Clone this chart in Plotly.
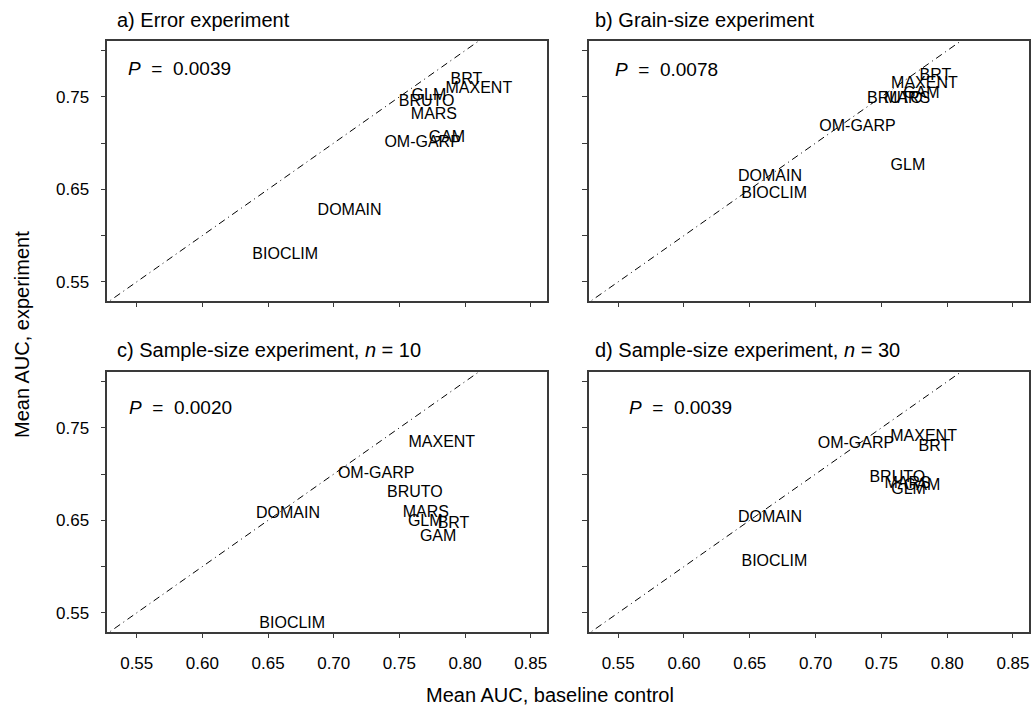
import plotly.graph_objects as go

# ---------------- data ----------------
titles = ["a) Error experiment",
          "b) Grain-size experiment",
          "c) Sample-size experiment, <i>n</i>\u00a0=\u00a010",
          "d) Sample-size experiment, <i>n</i>\u00a0=\u00a030"]
p_values = ["0.0039", "0.0078", "0.0020", "0.0039"]

labels_a = ["BRT", "MAXENT", "GLM", "BRUTO", "MARS", "GAM", "OM-GARP", "DOMAIN", "BIOCLIM"]
x_a = [0.801, 0.8105, 0.7725, 0.7707, 0.7763, 0.7862, 0.7677, 0.7121, 0.6631]
y_a = [0.7682, 0.7586, 0.7514, 0.7442, 0.7299, 0.7060, 0.6996, 0.6269, 0.5786]

labels_b = ["BRT", "MAXENT", "GAM", "BRUTO", "MARS", "OM-GARP", "GLM", "DOMAIN", "BIOCLIM"]
x_b = [0.7910, 0.7827, 0.7804, 0.7603, 0.7695, 0.7319, 0.7702, 0.6654, 0.6685]
y_b = [0.7729, 0.7639, 0.7532, 0.7479, 0.7479, 0.7174, 0.6752, 0.6637, 0.6448]

labels_c = ["MAXENT", "OM-GARP", "BRUTO", "MARS", "GLM", "BRT", "GAM", "DOMAIN", "BIOCLIM"]
x_c = [0.7823, 0.7323, 0.7618, 0.7702, 0.7697, 0.7912, 0.7795, 0.6652, 0.6684]
y_c = [0.7332, 0.7001, 0.6793, 0.6578, 0.6487, 0.6462, 0.6319, 0.6570, 0.5374]

labels_d = ["MAXENT", "BRT", "OM-GARP", "BRUTO", "MARS", "GLM", "GAM", "DOMAIN", "BIOCLIM"]
x_d = [0.7821, 0.7903, 0.7307, 0.7621, 0.7699, 0.7707, 0.7809, 0.6654, 0.6687]
y_d = [0.7403, 0.7289, 0.7324, 0.6955, 0.6893, 0.6829, 0.6871, 0.6524, 0.6045]

p_x = [0.5418, 0.5463, 0.5424, 0.5565]
p_y = [0.7809, 0.7798, 0.7722, 0.7718]

tick_vals = [0.55, 0.60, 0.65, 0.70, 0.75, 0.80, 0.85]
y_tick_vals = [0.55, 0.60, 0.65, 0.70, 0.75, 0.80]
y_tick_text = ["0.55", "", "0.65", "", "0.75", ""]
x_tick_text = ["0.55", "0.60", "0.65", "0.70", "0.75", "0.80", "0.85"]
diag = [0.50, 0.90]

# ---------------- figure ----------------
W, H = 1036, 711
FONT = "Liberation Sans, Arial, Helvetica, sans-serif"
fig = go.Figure()

panels = [(labels_a, x_a, y_a), (labels_b, x_b, y_b), (labels_c, x_c, y_c), (labels_d, x_d, y_d)]
xdoms = [[107.3 / W, 547.0 / W], [588.7 / W, 1029.3 / W]]
ydoms = [[1 - 300.7 / H, 1 - 41.0 / H], [1 - 631.7 / H, 1 - 372.0 / H]]
xrange_ = [0.5276, 0.8624]
yrange_ = [0.5296, 0.8104]
title_x = [115.0, 593.0]
title_y = [19.5, 350.5]

layout = dict(
    width=W, height=H,
    margin=dict(l=0, r=0, t=0, b=0),
    paper_bgcolor="white", plot_bgcolor="white",
    showlegend=False,
    font=dict(family=FONT, color="black"),
)
annotations = []

for i, (lab, xs, ys) in enumerate(panels):
    row, col = divmod(i, 2)
    n = i + 1
    xa = "x" if n == 1 else f"x{n}"
    ya = "y" if n == 1 else f"y{n}"
    xkey = "xaxis" if n == 1 else f"xaxis{n}"
    ykey = "yaxis" if n == 1 else f"yaxis{n}"
    axcommon = dict(showgrid=False, zeroline=False, showline=True, mirror=True,
                    linecolor="#3a3a3a", linewidth=1.5, ticks="outside", ticklen=5,
                    tickwidth=1, tickcolor="#3a3a3a",
                    tickfont=dict(family=FONT, size=17, color="black"))
    layout[xkey] = dict(axcommon, domain=xdoms[col], range=xrange_, anchor=ya,
                        tickmode="array", tickvals=tick_vals,
                        ticktext=x_tick_text if row == 1 else [""] * len(tick_vals),
                        ticklabelstandoff=10)
    layout[ykey] = dict(axcommon, domain=ydoms[row], range=yrange_, anchor=xa,
                        tickmode="array", tickvals=y_tick_vals,
                        ticktext=y_tick_text if col == 0 else [""] * len(y_tick_vals),
                        ticklabelstandoff=8)
    # 1:1 line
    fig.add_trace(go.Scatter(x=diag, y=diag, mode="lines", xaxis=xa, yaxis=ya,
                             line=dict(color="black", width=1, dash="1px,4px,7px,4px"),
                             hoverinfo="skip"))
    # method labels
    fig.add_trace(go.Scatter(x=xs, y=ys, text=lab, mode="text", xaxis=xa, yaxis=ya,
                             textposition="middle center",
                             textfont=dict(family=FONT, size=16, color="black"),
                             cliponaxis=False))
    # P value
    annotations.append(dict(x=p_x[i], y=p_y[i], xref=xa, yref=ya, xanchor="left",
                            yanchor="middle", showarrow=False,
                            text=f"<i>P</i>\u00a0\u00a0=\u00a0\u00a0{p_values[i]}",
                            font=dict(family=FONT, size=19, color="black")))
    # panel title
    annotations.append(dict(x=title_x[col] / W, y=1 - title_y[row] / H, xref="paper",
                            yref="paper", xanchor="left", yanchor="middle",
                            showarrow=False, text=titles[i],
                            font=dict(family=FONT, size=20, color="black")))

annotations.append(dict(x=22 / W, y=1 - 335 / H, xref="paper", yref="paper",
                        textangle=-90, showarrow=False, text="Mean AUC, experiment",
                        xanchor="center", yanchor="middle",
                        font=dict(family=FONT, size=20, color="black")))
annotations.append(dict(x=550 / W, y=1 - 695 / H, xref="paper", yref="paper",
                        showarrow=False, text="Mean AUC, baseline control",
                        xanchor="center", yanchor="middle",
                        font=dict(family=FONT, size=20, color="black")))
layout["annotations"] = annotations
fig.update_layout(**layout)
fig.write_html("out.html", config={"displayModeBar": False},
               post_script="document.body.style.margin='0px';"
                           "document.body.style.overflow='hidden';")
